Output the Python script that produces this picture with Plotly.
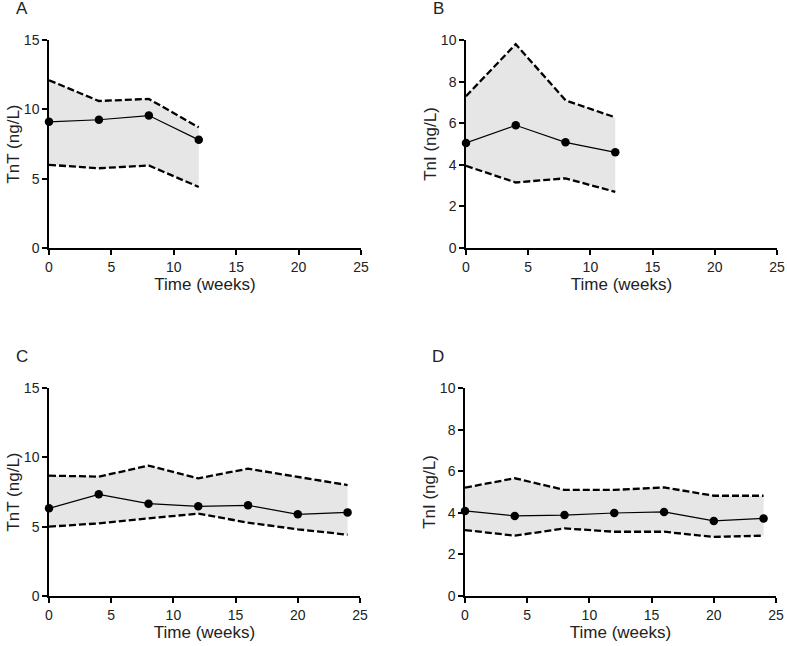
import plotly.graph_objects as go
from plotly.subplots import make_subplots

# ── Data ──────────────────────────────────────────────────────────────
weeks_short = [0, 4, 8, 12]
weeks_long = [0, 4, 8, 12, 16, 20, 24]

tnt_a_mean = [9.1, 9.25, 9.55, 7.8]
tnt_a_upper = [12.1, 10.6, 10.75, 8.7]
tnt_a_lower = [6.0, 5.75, 5.95, 4.4]

tni_b_mean = [5.05, 5.9, 5.08, 4.6]
tni_b_upper = [7.3, 9.8, 7.1, 6.28]
tni_b_lower = [3.95, 3.15, 3.35, 2.7]

tnt_c_mean = [6.32, 7.33, 6.66, 6.47, 6.54, 5.89, 6.03]
tnt_c_upper = [8.68, 8.61, 9.4, 8.49, 9.18, 8.6, 8.0]
tnt_c_lower = [5.0, 5.24, 5.6, 5.94, 5.29, 4.81, 4.42]

tni_d_mean = [4.09, 3.85, 3.89, 3.99, 4.04, 3.61, 3.73]
tni_d_upper = [5.21, 5.66, 5.10, 5.10, 5.22, 4.82, 4.82]
tni_d_lower = [3.17, 2.9, 3.25, 3.09, 3.09, 2.84, 2.9]

x_ticks = [0, 5, 10, 15, 20, 25]
panels = [
    ("A", "TnT (ng/L)", weeks_short, tnt_a_mean, tnt_a_upper, tnt_a_lower, 15, [0, 5, 10, 15]),
    ("B", "TnI (ng/L)", weeks_short, tni_b_mean, tni_b_upper, tni_b_lower, 10, [0, 2, 4, 6, 8, 10]),
    ("C", "TnT (ng/L)", weeks_long, tnt_c_mean, tnt_c_upper, tnt_c_lower, 15, [0, 5, 10, 15]),
    ("D", "TnI (ng/L)", weeks_long, tni_d_mean, tni_d_upper, tni_d_lower, 10, [0, 2, 4, 6, 8, 10]),
]

W, H = 787, 646
TEXT = "#222222"
FONT = "Liberation Sans, Arial, sans-serif"

# plot-area boxes in pixels: (left, right, top, bottom)
boxes = [(49, 361, 40, 248), (466, 777, 40, 248), (49, 360, 388, 596), (465, 776, 388, 596)]

fig = make_subplots(rows=2, cols=2)

for i, (letter, ytitle, xs, mean, upper, lower, ymax, yticks) in enumerate(panels):
    r, c = i // 2 + 1, i % 2 + 1
    fig.add_trace(go.Scatter(x=xs, y=lower, mode="lines",
                             line=dict(color="black", width=2.3, dash="7px,3px"),
                             showlegend=False), row=r, col=c)
    fig.add_trace(go.Scatter(x=xs, y=upper, mode="lines", fill="tonexty",
                             fillcolor="#e6e6e6",
                             line=dict(color="black", width=2.3, dash="7px,3px"),
                             showlegend=False), row=r, col=c)
    fig.add_trace(go.Scatter(x=xs, y=mean, mode="lines+markers",
                             line=dict(color="black", width=1.2),
                             marker=dict(color="black", size=8.5),
                             cliponaxis=False, showlegend=False), row=r, col=c)

    left, right, top, bottom = boxes[i]
    n = "" if i == 0 else str(i + 1)
    fig.layout["xaxis" + n].update(
        domain=[left / W, right / W], range=[0, 25], tickvals=x_ticks, automargin=False,
        showline=True, linecolor="black", linewidth=1.5, ticks="outside",
        ticklen=5, tickwidth=1.5, tickcolor="black", showgrid=False, zeroline=False,
        tickfont=dict(size=14, color=TEXT, family=FONT),
        title=dict(text="Time (weeks)", font=dict(size=17, color=TEXT, family=FONT), standoff=4),
    )
    fig.layout["yaxis" + n].update(
        domain=[1 - bottom / H, 1 - top / H], range=[0, ymax], tickvals=yticks, automargin=False,
        showline=True, linecolor="black", linewidth=1.5, ticks="outside",
        ticklen=5, tickwidth=1.5, tickcolor="black", showgrid=False, zeroline=False,
        tickfont=dict(size=14, color=TEXT, family=FONT),
        title=dict(text=ytitle, font=dict(size=17, color=TEXT, family=FONT), standoff=0),
    )
    # panel letter, placed relative to the panel's own plot area
    fig.add_annotation(text=letter, xref=f"x{n} domain", yref=f"y{n} domain",
                       x=0, y=1, xshift=-35, yshift=32,
                       xanchor="left", yanchor="middle", showarrow=False,
                       font=dict(size=17, color=TEXT, family=FONT))

fig.update_layout(
    width=W, height=H, margin=dict(l=0, r=0, t=0, b=0),
    paper_bgcolor="white", plot_bgcolor="white",
)

# the page body has a default 8px margin; drop it so the figure fills the window
fig.write_html("out.html", config={"displayModeBar": False},
               post_script="document.body.style.margin='0';")
